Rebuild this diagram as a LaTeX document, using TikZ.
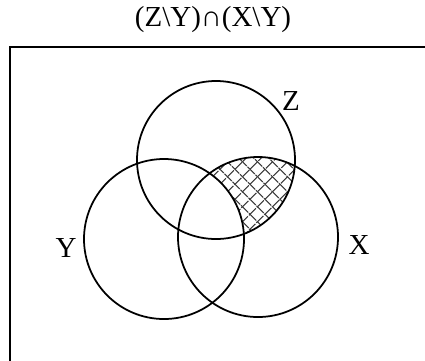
\documentclass[tikz,border=0pt]{standalone}
\usepackage{fontspec}
\setmainfont{Liberation Serif}
\usetikzlibrary{patterns.meta}

\begin{document}
\begin{tikzpicture}[
        x=0.02cm, y=-0.02cm,
        set/.style={
          draw=black,
          line width=1pt
        },
        frame/.style={
          draw=black,
          line width=1.2pt
        },
        label/.style={
          font=\fontsize{16.5}{18}\selectfont,
          inner sep=0pt
        },
        hatch/.style={
          pattern={Lines[angle=45, distance=6.5pt, line width=0.8pt]},
          pattern color=black!75
        },
        hatch2/.style={
          pattern={Lines[angle=-45, distance=6.5pt, line width=0.8pt]},
          pattern color=black!75
        }
      ]

      \useasboundingbox (0,0) rectangle (425,360);

      % Sets
      \coordinate (cz) at (216,160);
      \coordinate (cy) at (164,239);
      \coordinate (cx) at (258,237);

      % Hatched region
      \begin{scope}
        \clip (cz) circle (79);
        \clip (cx) circle (80);
        \fill [hatch, even odd rule] (cx) circle (80) (cy) circle (80);
        \fill [hatch2, even odd rule] (cx) circle (80) (cy) circle (80);
      \end{scope}

      \draw [set] (cz) circle (79);
      \draw [set] (cy) circle (80);
      \draw [set] (cx) circle (80);

      % Universe
      \begin{scope}
        \clip (0,0) rectangle (425,360);
        \draw [frame] (10,47) rectangle (450,400);
      \end{scope}

      % Labels
      \node [label] (title) at (213,20) {(Z\textbackslash Y)∩(X\textbackslash Y)};
      \node [label] (lz) at (291,101) {Z};
      \node [label] (ly) at (66,248) {Y};
      \node [label] (lx) at (359,245) {X};

    \end{tikzpicture}
\end{document}
